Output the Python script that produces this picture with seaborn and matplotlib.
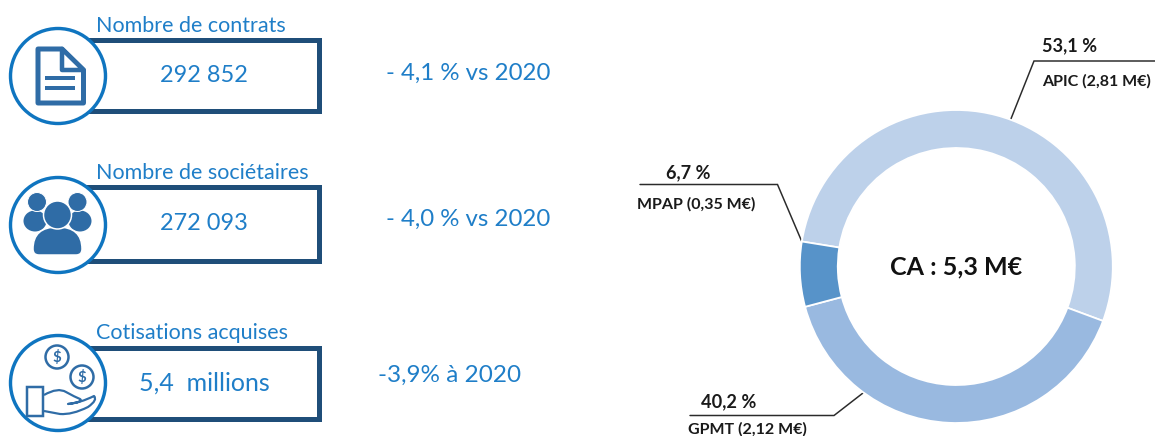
import matplotlib
matplotlib.use("Agg")
import matplotlib.pyplot as plt
from matplotlib.patches import Rectangle, Circle, Polygon, PathPatch, Ellipse
from matplotlib.path import Path
import seaborn as sns

# ---- data ----
kpi_titles = ["Nombre de contrats", "Nombre de sociétaires", "Cotisations acquises"]
kpi_values = ["292 852", "272 093", "5,4  millions"]
kpi_deltas = ["- 4,1 % vs 2020", "- 4,0 % vs 2020", "-3,9% à 2020"]
segments = ["APIC", "GPMT", "MPAP"]
shares = [53.1, 40.2, 6.7]
pct_labels = ["53,1 %", "40,2 %", "6,7 %"]
seg_labels = ["APIC (2,81 M€)", "GPMT (2,12 M€)", "MPAP (0,35 M€)"]
center_label = "CA : 5,3 M€"

sns.set_theme(style="white")
plt.rcParams["font.family"] = ["Lato", "DejaVu Sans"]

W, H = 1155, 436
BLUE_TXT = "#1f7ec8"
RING = "#0f75c0"
NAVY = "#1f4e79"
ICON = "#2f6ca6"
palette = sns.color_palette(["#bdd1ea", "#99b9e0", "#5793c9"])
px = 72 / 100  # one pixel in points

fig = plt.figure(figsize=(W / 100, H / 100), dpi=100, facecolor="white")
ax = fig.add_axes([0, 0, 1, 1])
ax.set_xlim(0, W)
ax.set_ylim(H, 0)
ax.axis("off")

# ---- doughnut ----
cx, cy, R, r = 956.3, 266.5, 156.5, 118.5
pie_ax = fig.add_axes([(cx - R - 1) / W, 1 - (cy + R + 1) / H, (2 * R + 2) / W, (2 * R + 2) / H])
pie_ax.pie(shares, colors=palette, startangle=170.8, counterclock=False, radius=1,
           wedgeprops=dict(width=(R - r) / R, edgecolor="white", linewidth=1.3))
pie_ax.set_xlim(-(R + 1) / R, (R + 1) / R)
pie_ax.set_ylim(-(R + 1) / R, (R + 1) / R)
pie_ax.axis("off")
pie_ax.patch.set_alpha(0)
sns.despine(ax=pie_ax, left=True, bottom=True)
fig.text(cx / W, 1 - 267 / H, center_label, ha="center", va="center",
         fontsize=25 * px, fontweight="bold", color="#111111", family=["Lato", "DejaVu Sans"])

# leader lines
for xs, ys in [([1010.5, 1034, 1155], [120, 61, 61]),
               ([802, 777.5, 640], [242, 184.5, 184.5]),
               ([863, 834, 690], [393, 415.5, 415.5])]:
    ax.plot(xs, ys, color="#2b2b2b", lw=1.5 * px, solid_joinstyle="miter")

for txt, x, y, fs, ha in [(pct_labels[0], 1042, 46, 18.2, "left"), (seg_labels[0], 1042, 81, 16, "left"),
                          (pct_labels[2], 688, 172.5, 18.2, "center"), (seg_labels[2], 696.5, 204, 16, "center"),
                          (pct_labels[1], 729, 401.5, 18.2, "center"), (seg_labels[1], 747, 429, 16, "center")]:
    ax.text(x, y, txt, ha=ha, va="center", fontsize=fs * px, fontweight="bold", color="#1a1a1a")

# ---- KPI boxes ----
box_tops = [40.5, 187.5, 347.5]
box_bots = [111, 260.5, 418.5]
circ_y = [76, 225, 383]
title_y = [26, 173, 333]
val_y = [76, 223, 383]
val_fs = [23.5, 23.5, 25]
delta_x = [386, 386, 378]
delta_y = [73, 219, 375]
delta_fs = [24, 24, 24.3]
val_x = [204, 204, 204]

for i in range(3):
    ax.add_patch(Rectangle((85, box_tops[i]), 318.5 - 85, box_bots[i] - box_tops[i],
                           fill=False, ec=NAVY, lw=5 * px, zorder=2, joinstyle="miter"))
    ax.add_patch(Circle((58, circ_y[i]), 47.5, fc="white", ec=RING, lw=3.4 * px, zorder=3))
    ax.text(96, title_y[i], kpi_titles[i], fontsize=21.5 * px, color=BLUE_TXT, va="center", ha="left", zorder=4)
    ax.text(val_x[i], val_y[i], kpi_values[i], fontsize=val_fs[i] * px, color=BLUE_TXT, va="center", ha="center", zorder=4)
    ax.text(delta_x[i], delta_y[i], kpi_deltas[i], fontsize=delta_fs[i] * px, color=BLUE_TXT, va="center", ha="left", zorder=4)

# document icon
ax.add_patch(Polygon([(38, 49), (62, 49), (83.5, 70), (83.5, 103), (38, 103)], closed=True, fc="white", ec=ICON,
                     lw=5 * px, joinstyle="round", zorder=5))
ax.add_patch(Polygon([(62, 49), (83.5, 70), (62, 70)], closed=True, fc="white", ec=ICON,
                     lw=4.5 * px, joinstyle="round", zorder=5))
for yy in (78.5, 88):
    ax.plot([45, 75], [yy, yy], color=ICON, lw=4 * px, zorder=5, solid_capstyle="butt")

# people icon
for sx, hx in [(35, 37), (80, 77.5)]:
    ax.add_patch(Ellipse((sx, 221), 23, 21, fc=ICON, ec="none", zorder=5))
    ax.add_patch(Circle((hx, 202), 9.5, fc=ICON, ec="white", lw=1 * px, zorder=6))
body = Path([(33, 249), (33, 227), (57.5, 227), (82, 227), (82, 249), (82, 255), (76, 255),
             (39, 255), (33, 255), (33, 249)],
            [Path.MOVETO, Path.CURVE3, Path.CURVE3, Path.CURVE3, Path.CURVE3, Path.CURVE3, Path.CURVE3,
             Path.LINETO, Path.CURVE3, Path.CURVE3])
ax.add_patch(PathPatch(body, fc=ICON, ec="white", lw=1.5 * px, zorder=7))
ax.add_patch(Circle((57.5, 215), 14, fc=ICON, ec="white", lw=1.5 * px, zorder=8))

# coins and hand icon
for (x0, y0) in [(57, 357), (82, 377)]:
    ax.add_patch(Circle((x0, y0), 11.5, fc="white", ec=ICON, lw=2.5 * px, zorder=5))
    ax.text(x0, y0, "$", fontsize=15 * px, fontweight="bold", color=ICON, ha="center", va="center", zorder=6)
ax.add_patch(Rectangle((27, 387), 16, 29, fc="white", ec=ICON, lw=2.5 * px, zorder=5))
hand = Path([(44, 395), (58, 387), (66, 392), (75, 397), (80, 399), (84, 402), (68, 404),
             (80, 403), (94, 396), (98, 400), (88, 407), (72, 415), (60, 414), (44, 411)],
            [Path.MOVETO, Path.CURVE3, Path.CURVE3, Path.CURVE3, Path.CURVE3, Path.CURVE3, Path.CURVE3,
             Path.CURVE3, Path.CURVE3, Path.CURVE3, Path.CURVE3, Path.CURVE3, Path.CURVE3, Path.LINETO])
ax.add_patch(PathPatch(hand, fc="none", ec=ICON, lw=2.2 * px, zorder=5, joinstyle="round"))

fig.savefig("out.png", dpi=100, facecolor="white")
